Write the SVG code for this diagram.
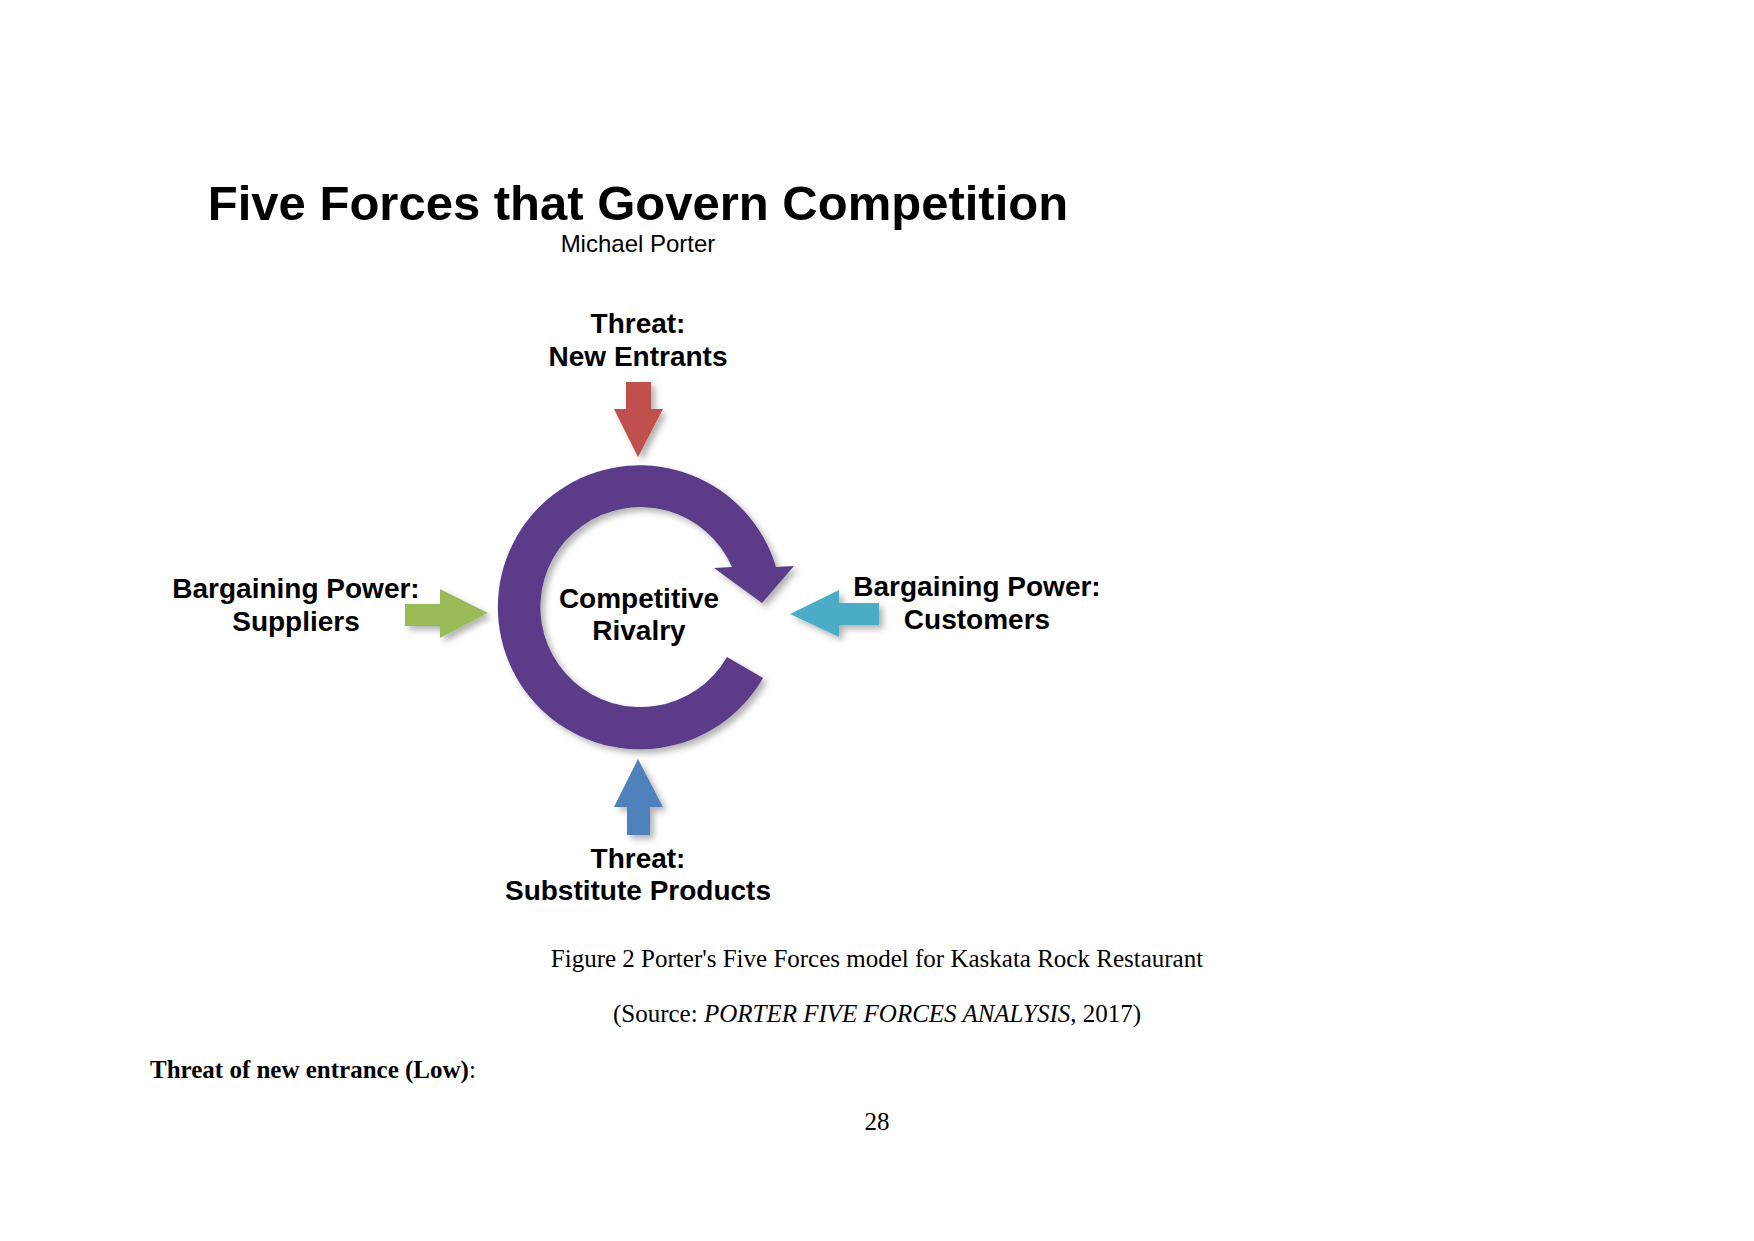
<svg xmlns="http://www.w3.org/2000/svg" width="1754" height="1241" viewBox="0 0 1754 1241">
<style>
.lbl{font-family:"Liberation Sans",Arial,sans-serif;font-weight:bold;font-size:28px;fill:#000;text-anchor:middle}
.serif{font-family:"Liberation Serif","Times New Roman",serif;font-size:25px;fill:#000}
</style>
<defs>
<filter id="sh" x="-20%" y="-20%" width="150%" height="150%">
<feDropShadow dx="4" dy="4" stdDeviation="3" flood-color="#000" flood-opacity="0.3"/>
</filter>
</defs>
<rect width="1754" height="1241" fill="#fff"/>
<text x="638" y="220" font-family="'Liberation Sans',Arial,sans-serif" font-weight="bold" font-size="49" text-anchor="middle">Five Forces that Govern Competition</text>
<text x="638" y="252" font-family="'Liberation Sans',Arial,sans-serif" font-size="24" text-anchor="middle">Michael Porter</text>
<g id="rivalry">
<path d="M763 678 A142 142 0 1 1 776 567 L794 566 L762 603 L714 568 L732 567 A100 100 0 1 0 727 657 Z" fill="#5b3a88" filter="url(#sh)"/>
<text class="lbl" x="639" y="608">Competitive</text>
<text class="lbl" x="639" y="640">Rivalry</text>
</g>
<g id="new-entrants">
<text class="lbl" x="638" y="333">Threat:</text>
<text class="lbl" x="638" y="366">New Entrants</text>
</g>
<g id="suppliers">
<text class="lbl" x="296" y="598">Bargaining Power:</text>
<text class="lbl" x="296" y="631">Suppliers</text>
</g>
<g id="customers">
<text class="lbl" x="977" y="596">Bargaining Power:</text>
<text class="lbl" x="977" y="629">Customers</text>
</g>
<g id="substitutes">
<text class="lbl" x="638" y="868">Threat:</text>
<text class="lbl" x="638" y="900">Substitute Products</text>
</g>
<g id="connectors">
<polygon points="626,382 651,382 651,409 663,409 638,457 614,409 626,409" fill="#c0504d" filter="url(#sh)"/>
<polygon points="638,759 663,807 650,807 650,835 627,835 627,807 614,807" fill="#4f81bd" filter="url(#sh)"/>
<polygon points="405,604 440,604 440,589 488,613 440,638 440,626 405,626" fill="#9bbb59" filter="url(#sh)"/>
<polygon points="790,614 839,590 839,603 879,603 879,625 839,625 839,637" fill="#4bacc6" filter="url(#sh)"/>
</g>
<text class="serif" x="877" y="967" text-anchor="middle">Figure 2 Porter's Five Forces model for Kaskata Rock Restaurant</text>
<text class="serif" x="877" y="1022" text-anchor="middle">(Source: <tspan font-style="italic">PORTER FIVE FORCES ANALYSIS</tspan>, 2017)</text>
<text class="serif" x="150" y="1078"><tspan font-weight="bold">Threat of new entrance (Low)</tspan>:</text>
<text class="serif" x="877" y="1130" text-anchor="middle">28</text>
</svg>
